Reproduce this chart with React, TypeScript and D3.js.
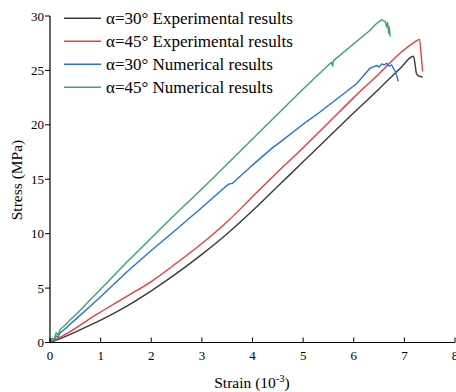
import React from "react";
import * as d3 from "d3";

const xTicks = [0, 1, 2, 3, 4, 5, 6, 7, 8];
const yTicks = [0, 5, 10, 15, 20, 25, 30];

const seriesNames = [
  "α=30° Experimental results",
  "α=45° Experimental results",
  "α=30° Numerical results",
  "α=45° Numerical results",
];
const seriesColors = ["#3a3a3a", "#ef3b3b", "#2a6fdc", "#3aa66c"];

const exp30: [number, number][] = [
  [0, 0], [0.25, 0.45], [0.5, 0.95], [0.75, 1.5], [1, 2.05], [1.5, 3.3], [2, 4.75],
  [2.5, 6.35], [3, 8.1], [3.5, 10.0], [4, 12.1], [4.5, 14.35], [5, 16.6], [5.5, 18.85],
  [6, 21.1], [6.5, 23.3], [6.92, 25.2], [7.18, 26.3], [7.21, 25.6], [7.24, 24.7],
  [7.28, 24.5], [7.36, 24.4],
];
const exp45: [number, number][] = [
  [0, 0], [0.25, 0.6], [0.5, 1.3], [0.79, 2.2], [1, 2.8], [1.5, 4.2], [2, 5.6],
  [2.5, 7.3], [3, 9.1], [3.5, 11.1], [4, 13.4], [4.5, 15.7], [5, 17.9], [5.5, 20.2],
  [6, 22.5], [6.5, 24.7], [6.92, 26.6], [7.2, 27.6], [7.3, 27.85], [7.33, 26.5], [7.36, 24.9],
];
const num30: [number, number][] = [
  [0, 0], [0.04, 0.35], [0.08, 0.15], [0.12, 0.6], [0.16, 0.5], [0.2, 0.9], [0.3, 1.25],
  [0.4, 1.7], [0.5, 2.1], [0.79, 3.3], [1, 4.2], [1.5, 6.4], [2, 8.45], [2.5, 10.4],
  [3, 12.4], [3.5, 14.45], [3.56, 14.6], [3.6, 14.6], [4, 16.3], [4.41, 17.95], [4.5, 18.25],
  [5.07, 20.3], [5.34, 21.2], [5.73, 22.6], [6.06, 23.8], [6.32, 25.2], [6.4, 25.35],
  [6.46, 25.45], [6.5, 25.3], [6.55, 25.6], [6.6, 25.5], [6.65, 25.65], [6.7, 25.4],
  [6.75, 25.5], [6.78, 25.2], [6.82, 24.9], [6.85, 24.5], [6.88, 24.0],
];
const num45: [number, number][] = [
  [0, 0], [0.05, 0.4], [0.08, 0.2], [0.12, 0.9], [0.16, 0.7], [0.2, 1.2], [0.3, 1.6],
  [0.4, 2.1], [0.5, 2.5], [0.79, 3.9], [1, 4.9], [1.5, 7.3], [2, 9.6], [2.5, 11.9],
  [3, 14.1], [3.5, 16.4], [4, 18.7], [4.5, 21.0], [5, 23.3], [5.5, 25.5], [5.56, 25.75],
  [5.58, 25.4], [5.6, 25.9], [6.09, 27.8], [6.3, 28.6], [6.45, 29.3], [6.55, 29.65],
  [6.62, 29.5], [6.65, 29.0], [6.67, 29.4], [6.69, 28.4], [6.7, 29.0], [6.72, 28.1],
];
const allSeries = [exp30, exp45, num30, num45];

export default function App() {
  const W = 456, H = 392;
  const x = d3.scaleLinear().domain([0, 8]).range([50, 455]);
  const y = d3.scaleLinear().domain([0, 30]).range([342.5, 16]);
  const smooth = d3.line<[number, number]>().x(d => x(d[0])).y(d => y(d[1])).curve(d3.curveMonotoneX);
  const rough = d3.line<[number, number]>().x(d => x(d[0])).y(d => y(d[1]));
  const font = "'Liberation Serif', 'Times New Roman', serif";
  return (
    <svg width={W} height={H} style={{ position: "absolute", left: 0, top: 0 }} fontFamily={font}>
      <rect width={W} height={H} fill="#fff" />
      {allSeries.map((s, i) => (
        <path key={i} d={(i < 2 ? smooth(s) : rough(s)) || ""} fill="none" stroke={seriesColors[i]} strokeWidth={1.4} strokeLinejoin="round" />
      ))}
      <line x1={x(0)} x2={x(8)} y1={y(0)} y2={y(0)} stroke="#000" strokeWidth={1.2} />
      <line x1={x(0)} x2={x(0)} y1={y(0)} y2={y(30)} stroke="#000" strokeWidth={1.2} />
      {xTicks.map(t => (
        <g key={t}>
          <line x1={x(t)} x2={x(t)} y1={y(0)} y2={y(0) - 5} stroke="#000" strokeWidth={1} />
          <text x={x(t)} y={360} fontSize={13} textAnchor="middle">{t}</text>
        </g>
      ))}
      {yTicks.map(t => (
        <g key={t}>
          <line x1={x(0) - 5} x2={x(0)} y1={y(t)} y2={y(t)} stroke="#000" strokeWidth={1} />
          <text x={44} y={y(t) + 4.5} fontSize={13} textAnchor="end">{t}</text>
        </g>
      ))}
      <text x={252} y={388} fontSize={15.5} textAnchor="middle">
        Strain (10<tspan dy={-6} fontSize={10.5}>-3</tspan><tspan dy={6}>)</tspan>
      </text>
      <text transform="translate(22,180) rotate(-90)" fontSize={15.5} textAnchor="middle">Stress (MPa)</text>
      {seriesNames.map((n, i) => {
        const ly = 18.3 + i * 23;
        return (
          <g key={n}>
            <line x1={64} x2={101} y1={ly} y2={ly} stroke={seriesColors[i]} strokeWidth={1.4} />
            <text x={106} y={ly + 5.5} fontSize={17}>{n}</text>
          </g>
        );
      })}
    </svg>
  );
}
